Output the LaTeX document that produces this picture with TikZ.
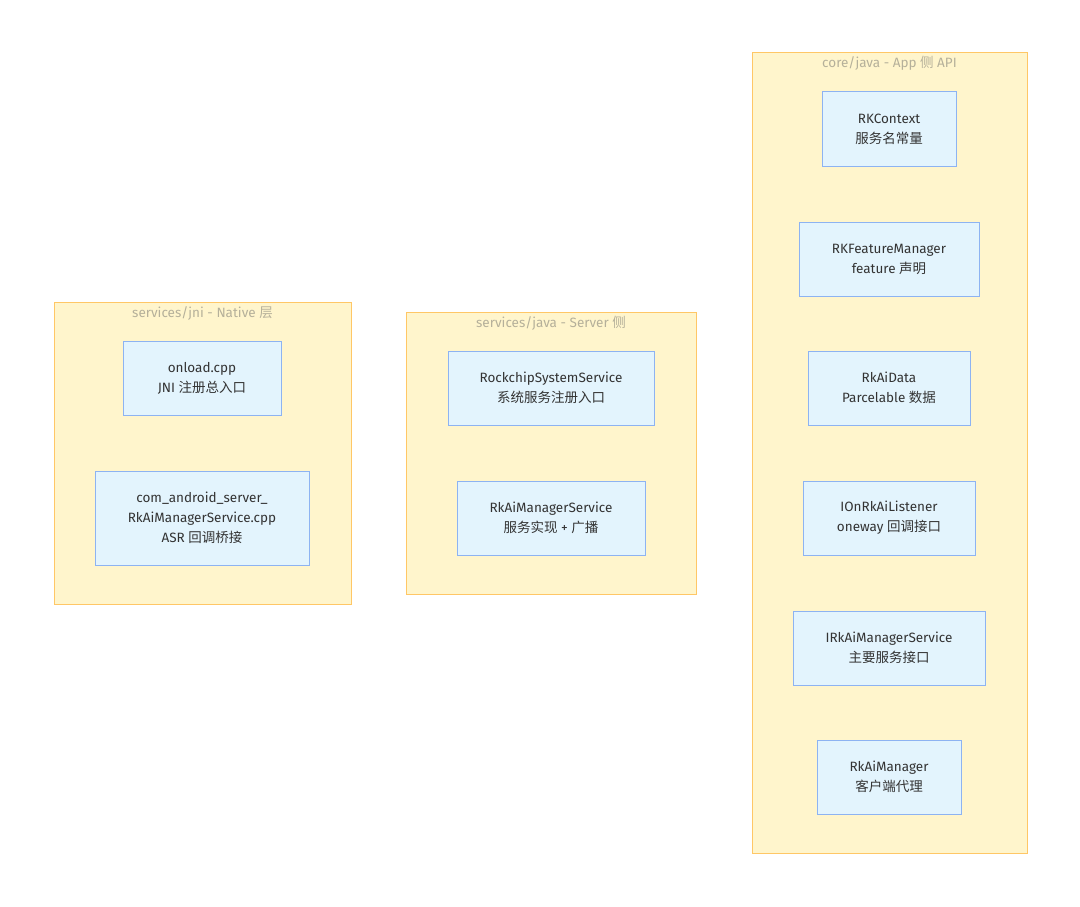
\documentclass[tikz,border=0pt]{standalone}
\usepackage{fontspec}
\setmainfont{Fira Sans}
\newfontfamily\cjk{Noto Sans CJK SC}
\begin{document}
\begin{tikzpicture}[x=1pt,y=-1pt,
  font=\fontsize{13.5}{20}\selectfont,
  cluster/.style={draw=clusterborder,fill=clusterfill,line width=1pt},
  ctitle/.style={text=titlegray,anchor=center,inner sep=0pt},
  item/.style={draw=itemborder,fill=itemfill,line width=1pt,text=textdark,align=center,inner sep=0pt}]
\definecolor{clusterfill}{HTML}{FFF5CC}
\definecolor{clusterborder}{HTML}{FFC766}
\definecolor{itemfill}{HTML}{E3F4FD}
\definecolor{itemborder}{HTML}{8DB3F2}
\definecolor{textdark}{HTML}{333333}
\definecolor{titlegray}{HTML}{B5B09A}
\useasboundingbox (0,0) rectangle (1080,907);
% clusters
\draw[cluster] (54,302) rectangle (351,604);
\node[ctitle] (t1) at (202.5,313) {services/jni - Native {\cjk 层}};
\draw[cluster] (406,312) rectangle (696,594);
\node[ctitle] (t2) at (551,323) {services/java - Server {\cjk 侧}};
\draw[cluster] (752,53) rectangle (1027,853);
\node[ctitle] (t3) at (889.5,63) {core/java - App {\cjk 侧} API};
% native
\node[item,minimum width=158,minimum height=74] (onload) at (202,378) {onload.cpp\\JNI {\cjk 注册总入口}};
\node[item,minimum width=214,minimum height=94] (jnirk) at (202,518) {com\_android\_server\_\\RkAiManagerService.cpp\\ASR {\cjk 回调桥接}};
% server
\node[item,minimum width=206,minimum height=74] (rss) at (551,388) {RockchipSystemService\\{\cjk 系统服务注册入口}};
\node[item,minimum width=188,minimum height=74] (rkams) at (551,518) {RkAiManagerService\\{\cjk 服务实现} + {\cjk 广播}};
% app
\node[item,minimum width=134,minimum height=74] (ctx) at (889,129) {RKContext\\{\cjk 服务名常量}};
\node[item,minimum width=180,minimum height=74] (feat) at (889,259) {RKFeatureManager\\feature {\cjk 声明}};
\node[item,minimum width=162,minimum height=74] (data) at (889,388) {RkAiData\\Parcelable {\cjk 数据}};
\node[item,minimum width=172,minimum height=74] (lis) at (889,518) {IOnRkAiListener\\oneway {\cjk 回调接口}};
\node[item,minimum width=192,minimum height=74] (iser) at (889,648) {IRkAiManagerService\\{\cjk 主要服务接口}};
\node[item,minimum width=144,minimum height=74] (mgr) at (889,777) {RkAiManager\\{\cjk 客户端代理}};
\end{tikzpicture}
\end{document}
